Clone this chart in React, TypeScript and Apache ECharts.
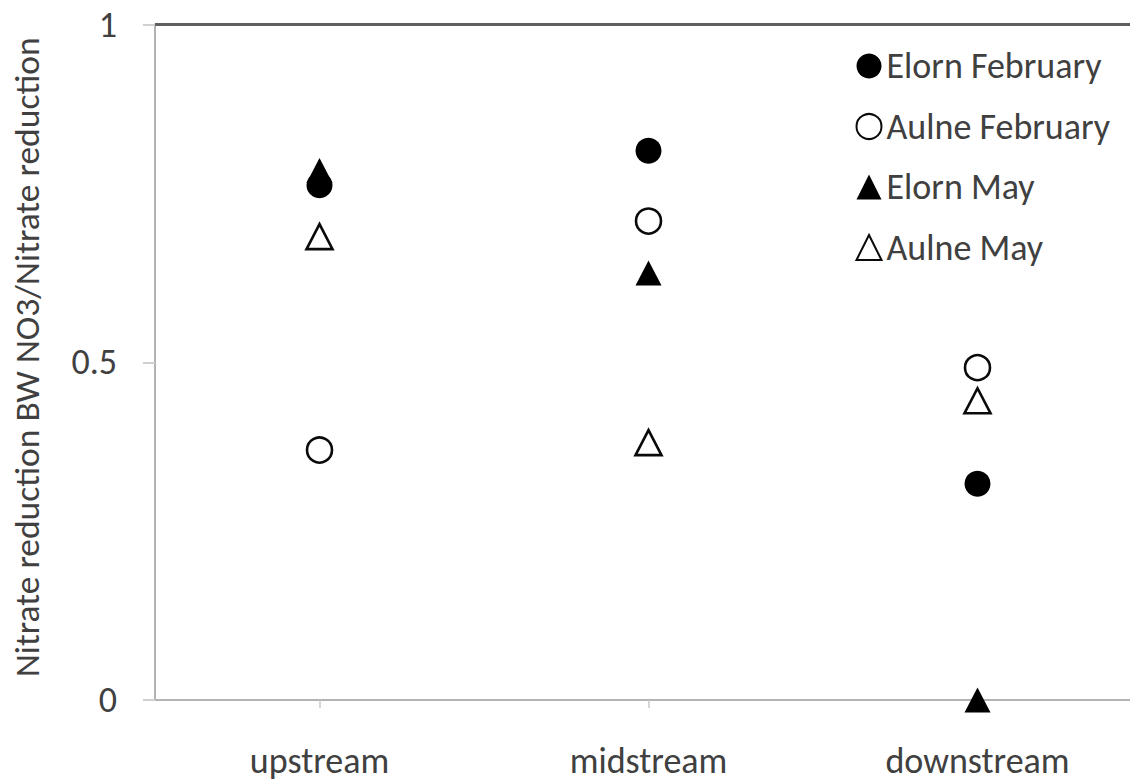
import React, { useEffect, useRef } from "react";
import * as echarts from "echarts";

const categories = ["upstream", "midstream", "downstream"];
const elornFebruary = [0.762, 0.813, 0.320];
const aulneFebruary = [0.370, 0.709, 0.492];
const elornMay = [0.784, 0.632, 0.0];
const aulneMay = [0.686, 0.381, 0.443];
const yTicks = [0, 0.5, 1];

const FONT = "Carlito, Calibri, Lato, sans-serif";
const TEXT = "#404040";

export default function App() {
  const ref = useRef<HTMLDivElement>(null);
  useEffect(() => {
    if (!ref.current) return;
    const chart = echarts.init(ref.current, undefined, { renderer: "svg" });
    const mk = (
      name: string,
      data: number[],
      symbol: string,
      size: number | number[],
      filled: boolean
    ) => ({
      name,
      type: "scatter",
      data,
      symbol,
      symbolSize: size,
      clip: false,
      itemStyle: filled
        ? { color: "#000000", borderWidth: 0, opacity: 1 }
        : { color: "#ffffff", borderColor: "#0a0a0a", borderWidth: 2.6, opacity: 1 },
      emphasis: { disabled: true },
    });
    chart.setOption({
      animation: false,
      backgroundColor: "#ffffff",
      grid: {
        left: 155,
        top: 24.5,
        width: 987,
        bottom: 82,
        containLabel: false,
        outerBoundsMode: "none",
      },
      graphic: [
        {
          type: "rect",
          z: 100,
          silent: true,
          shape: { x: 155, y: 23, width: 975, height: 3 },
          style: { fill: "#5f5f5f" },
        },
      ],
      legend: {
        orient: "vertical",
        left: 850.5,
        top: 43,
        itemWidth: 25,
        itemHeight: 25,
        itemGap: 24.5,
        textStyle: { fontFamily: FONT, fontSize: 36, color: TEXT },
        data: ["Elorn February", "Aulne February", "Elorn May", "Aulne May"],
      },
      xAxis: [
        {
          type: "category",
          data: categories,
          boundaryGap: true,
          axisLine: { lineStyle: { color: "#b3b3b3", width: 2 } },
          axisTick: { show: true, alignWithLabel: true, length: 8, lineStyle: { color: "#c8c8c8", width: 1.5 } },
          axisLabel: { fontFamily: FONT, fontSize: 36, color: TEXT, margin: 43 },
          splitLine: { show: false },
        },
        {
          type: "category",
          position: "top",
          data: categories,
          axisLine: { show: true, onZero: false, lineStyle: { color: "#6b6b6b", width: 2 } },
          axisTick: { show: false },
          axisLabel: { show: false },
          splitLine: { show: false },
        },
      ],
      yAxis: {
        type: "value",
        min: yTicks[0],
        max: yTicks[yTicks.length - 1],
        interval: 0.5,
        name: "Nitrate reduction BW NO3/Nitrate reduction",
        nameLocation: "middle",
        nameGap: 110,
        nameTextStyle: { fontFamily: FONT, fontSize: 35.5, color: TEXT, padding: [0, 0, 0, 10] },
        axisLine: { show: true, onZero: false, lineStyle: { color: "#b3b3b3", width: 2 } },
        axisTick: { show: true, length: 12, lineStyle: { color: "#d0d0d0", width: 2 } },
        axisLabel: {
          fontFamily: FONT,
          fontSize: 36,
          color: TEXT,
          margin: 38,
          formatter: (v: number) => String(v),
        },
        splitLine: { show: false },
      },
      series: [
        mk("Elorn February", elornFebruary, "circle", 26, true),
        mk("Aulne February", aulneFebruary, "circle", 25, false),
        mk("Elorn May", elornMay, "triangle", [26, 25], true),
        mk("Aulne May", aulneMay, "triangle", [26, 25], false),
      ],
    });
    return () => chart.dispose();
  }, []);
  return <div ref={ref} style={{ width: 1130, height: 782, position: "absolute", left: 0, top: 0 }} />;
}
